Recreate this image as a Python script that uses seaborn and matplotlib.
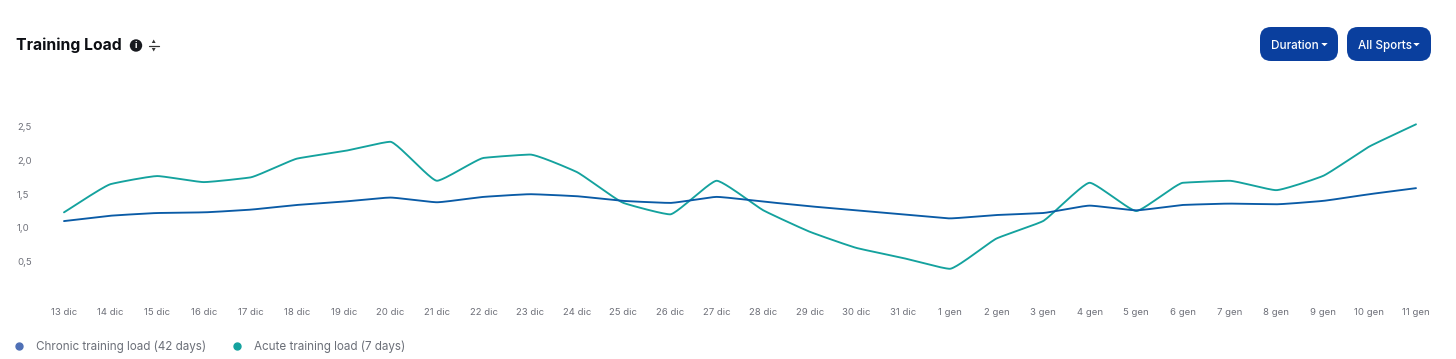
import numpy as np
import pandas as pd
import matplotlib
matplotlib.use("Agg")
import matplotlib.pyplot as plt
from matplotlib.patches import FancyBboxPatch, Circle, Polygon
from matplotlib.lines import Line2D
import seaborn as sns

days = ["13 dic","14 dic","15 dic","16 dic","17 dic","18 dic","19 dic","20 dic","21 dic","22 dic",
        "23 dic","24 dic","25 dic","26 dic","27 dic","28 dic","29 dic","30 dic","31 dic","1 gen",
        "2 gen","3 gen","4 gen","5 gen","6 gen","7 gen","8 gen","9 gen","10 gen","11 gen"]
chronic = [1.10,1.18,1.22,1.23,1.27,1.34,1.39,1.45,1.38,1.46,1.50,1.47,1.40,1.37,1.46,
           1.39,1.32,1.26,1.20,1.14,1.19,1.22,1.33,1.26,1.34,1.36,1.35,1.40,1.50,1.59]
acute = [1.23,1.65,1.77,1.68,1.75,2.03,2.14,2.28,1.70,2.04,2.09,1.83,1.37,1.20,1.70,
         1.26,0.94,0.70,0.55,0.39,0.84,1.10,1.67,1.25,1.67,1.70,1.56,1.77,2.21,2.54]
y_ticks = [0.5, 1.0, 1.5, 2.0, 2.5]
y_labels = ["0,5", "1,0", "1,5", "2,0", "2,5"]
chronic_name = "Chronic training load (42 days)"
acute_name = "Acute training load (7 days)"
title = "Training Load"
buttons = ["Duration", "All Sports"]

def rounded(y, h=0.14, n=24):
    """Render a series as short-handled Bezier segments through its own points."""
    y = np.asarray(y, float)
    d = np.diff(y)
    m = np.zeros_like(y)
    for i in range(1, len(y) - 1):
        if d[i - 1] * d[i] > 0:
            m[i] = 2 * d[i - 1] * d[i] / (d[i - 1] + d[i])
    m[0], m[-1] = d[0], d[-1]
    xs, ys = [], []
    for i in range(len(d)):
        t = np.linspace(0, 1, n, endpoint=False)
        b0, b1, b2, b3 = (1-t)**3, 3*t*(1-t)**2, 3*t**2*(1-t), t**3
        xs.append(b0*i + b1*(i+h) + b2*(i+1-h) + b3*(i+1))
        ys.append(b0*y[i] + b1*(y[i]+h*m[i]) + b2*(y[i+1]-h*m[i+1]) + b3*y[i+1])
    return np.r_[np.concatenate(xs), len(y) - 1], np.r_[np.concatenate(ys), y[-1]]

sns.set_theme(style="white")
plt.rcParams["font.family"] = ["Inter", "DejaVu Sans"]

W, H = 1456, 359
fig = plt.figure(figsize=(W / 100, H / 100), dpi=100, facecolor="white")

X0, X1, Y0, Y25 = 64.0, 1416.0, 295.0, 127.0
ax = fig.add_axes([X0 / W, 1 - Y0 / H, (X1 - X0) / W, (Y0 - Y25) / H])
ax.patch.set_alpha(0)
frames = []
for name, vals in ((chronic_name, chronic), (acute_name, acute)):
    xs, ys = rounded(vals)
    frames.append(pd.DataFrame({"x": xs, "y": ys, "series": name}))
df = pd.concat(frames)
sns.lineplot(data=df, x="x", y="y", hue="series", ax=ax, legend=False,
             palette={chronic_name: "#0a5ba6", acute_name: "#14a29e"},
             hue_order=[acute_name, chronic_name], linewidth=1.35, errorbar=None, clip_on=False)
ax.set_xlim(0, len(days) - 1)
ax.set_ylim(0, 2.5)
ax.set_xlabel("")
ax.set_ylabel("")
ax.set_xticks(range(len(days)), days)
ax.set_yticks(y_ticks, y_labels)
ax.tick_params(axis="x", length=0, pad=9.5, labelsize=6.9, labelcolor="#6e7079")
ax.tick_params(axis="y", length=0, labelsize=6.9, labelcolor="#6e7079", pad=0)
for lab in ax.get_yticklabels():
    lab.set_horizontalalignment("left")
    lab.set_x((17 - X0) / (X1 - X0))
sns.despine(ax=ax, left=True, bottom=True)
ax.grid(False)

ov = fig.add_axes([0, 0, 1, 1], zorder=5)
ov.set_xlim(0, W)
ov.set_ylim(H, 0)
ov.axis("off")

ov.text(15.5, 45, title, fontsize=11.3, fontweight="bold", color="#0d0f14", va="center", ha="left")
ov.add_patch(Circle((136, 45.5), 6.2, color="#17191e", lw=0))
ov.text(136, 45.5, "i", color="white", fontsize=6.5, fontweight="bold", ha="center", va="center")
ov.add_line(Line2D([148.5, 159], [45.5, 45.5], color="#333333", lw=0.9))
ov.add_patch(Polygon([[153.7, 39.5], [151.8, 43], [155.6, 43]], color="#333333", lw=0))
ov.add_patch(Polygon([[153.7, 51.5], [151.8, 48], [155.6, 48]], color="#333333", lw=0))

for (x0, x1, label, tx, cx) in ((1260, 1338, buttons[0], 1271, 1324.5),
                                (1347, 1431, buttons[1], 1357.5, 1416.5)):
    ov.add_patch(FancyBboxPatch((x0 + 11, 27 + 11), x1 - x0 - 22, 34 - 22,
                                boxstyle="round,pad=11,rounding_size=11",
                                fc="#0a3f9e", ec="none"))
    ov.text(tx, 49, label, color="white", fontsize=8.4, va="baseline", ha="left", fontweight="medium")
    ov.add_patch(Polygon([[cx - 3.2, 43], [cx + 3.2, 43], [cx, 46.2]], color="white", lw=0))

handles = [Line2D([], [], ls="", marker="o", ms=5.0, color="#4f70b6", label=chronic_name),
           Line2D([], [], ls="", marker="o", ms=5.0, color="#14a29e", label=acute_name)]
fig.legend(handles=handles, loc="center left", bbox_to_anchor=(13 / W, 1 - 347 / H), ncol=2,
           frameon=False, fontsize=8.4, labelcolor="#6b6f78", handletextpad=0.97,
           columnspacing=2.16, handlelength=1.0, borderpad=0, borderaxespad=0)

fig.savefig("out.png", dpi=100)
